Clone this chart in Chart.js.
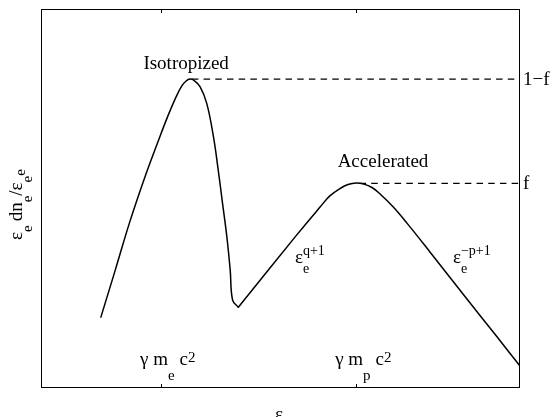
<!DOCTYPE html>
<html>
<head>
<meta charset="utf-8">
<script src="https://cdn.jsdelivr.net/npm/chart.js@4"></script>
<style>
  html, body { margin: 0; padding: 0; background: #fff; }
  canvas { display: block; }
</style>
</head>
<body>
<canvas id="spec" width="558" height="417"></canvas>
<script>
// electron spectrum (arbitrary units)
const curveX = [12.5, 15.5, 18.6, 21.7, 24.4, 26.5, 28.2, 29.4, 30.3, 31.1, 31.9, 33.2, 34.6, 36.0, 37.0, 37.9, 38.8, 39.5, 40.0, 41.2, 53.4, 58.3, 60.3, 62.4, 64.1, 65.8, 67.4, 69.1, 70.8, 73.5, 76.4, 81.2, 88.1, 95.2, 100];
const curveY = [18.7, 31.1, 44.1, 55.7, 64.9, 71.8, 76.8, 79.7, 81.0, 81.5, 81.2, 79.5, 75.1, 66.3, 57.5, 48.7, 39.9, 31.1, 23.2, 21.3, 40.4, 47.8, 50.7, 52.6, 53.7, 54.1, 53.8, 52.9, 51.2, 47.8, 43.5, 35.9, 24.8, 13.5, 5.8];

// fraction levels (dashed)
const levelY = [81.5, 54.0];
const levelStartX = [31.5, 66.5];
const levelLabels = ['1\u2212f', 'f'];

// characteristic energies on the x axis
const tickX = [25.05, 65.8];
const tickSubs = ['e', 'p'];

const FONT = '"Liberation Serif", "DejaVu Serif", serif';

function drawRich(ctx, parts, x, y) {
    parts.forEach(p => {
        ctx.font = p.size + 'px ' + FONT;
        ctx.fillText(p.text, x, y + (p.dy || 0));
        if (!p.stack) x += ctx.measureText(p.text).width + (p.gap || 0);
    });
}

const decor = {
    id: 'decor',
    afterDraw(chart) {
        const ctx = chart.ctx;
        const a = chart.chartArea;
        const xs = chart.scales.x, ys = chart.scales.y;
        ctx.save();
        ctx.strokeStyle = '#000';
        ctx.fillStyle = '#000';
        ctx.lineWidth = 1;

        // box
        ctx.strokeRect(Math.round(a.left) + 0.5, Math.round(a.top) + 0.5,
            Math.round(a.right - a.left) - 1, Math.round(a.bottom - a.top) - 1);

        // inward ticks top and bottom
        tickX.forEach(v => {
            const px = Math.round(xs.getPixelForValue(v)) + 0.5;
            ctx.beginPath();
            ctx.moveTo(px, a.bottom); ctx.lineTo(px, a.bottom - 4);
            ctx.moveTo(px, a.top); ctx.lineTo(px, a.top + 4);
            ctx.stroke();
        });

        ctx.textAlign = 'left';
        ctx.textBaseline = 'alphabetic';

        // tick labels inside the box
        tickX.forEach((v, i) => {
            const px = xs.getPixelForValue(v) - 21;
            drawRich(ctx, [
                { text: '\u03b3 m', size: 19 },
                { text: tickSubs[i], size: 15, dy: 15, gap: 5 },
                { text: 'c', size: 19 },
                { text: '2', size: 15, dy: -3 }
            ], px, a.bottom - 23);
        });

        // level labels on the right
        levelY.forEach((v, i) => {
            ctx.font = '19px ' + FONT;
            ctx.fillText(levelLabels[i], a.right + 3, ys.getPixelForValue(v) + 6);
        });

        // annotations
        ctx.textAlign = 'center';
        ctx.font = '19px ' + FONT;
        ctx.fillText('Isotropized', xs.getPixelForValue(30.3), ys.getPixelForValue(levelY[0]) - 10);
        ctx.fillText('Accelerated', xs.getPixelForValue(71.4), ys.getPixelForValue(levelY[1]) - 16);
        ctx.textAlign = 'left';

        drawRich(ctx, [
            { text: '\u03b5', size: 19 },
            { text: 'e', size: 14, dy: 10, stack: true },
            { text: 'q+1', size: 14, dy: -8 }
        ], 295, 263);
        drawRich(ctx, [
            { text: '\u03b5', size: 19 },
            { text: 'e', size: 14, dy: 10, stack: true },
            { text: '\u2212p+1', size: 14, dy: -8 }
        ], 453, 263);

        // x title
        drawRich(ctx, [
            { text: '\u03b5', size: 19 },
            { text: 'e', size: 15, dy: 10 }
        ], 275, 420);

        // y title (rotated)
        ctx.save();
        ctx.translate(22, 240);
        ctx.rotate(-Math.PI / 2);
        drawRich(ctx, [
            { text: '\u03b5', size: 19 },
            { text: 'e', size: 15, dy: 10, gap: 4 },
            { text: 'dn', size: 19 },
            { text: 'e', size: 15, dy: 10 },
            { text: '/\u03b5', size: 19 },
            { text: 'e', size: 15, dy: 10 },
            { text: 'e', size: 15, dy: 3 }
        ], 0, 0);
        ctx.restore();

        ctx.restore();
    }
};

const curve = curveX.map((x, i) => ({ x: x, y: curveY[i] }));
// the dip between the two humps is a sharp corner: split the curve there
const inner = curveY.slice(10, curveY.length - 10);
const kink = 10 + inner.indexOf(Math.min(...inner));

function curvePart(points) {
    return {
        data: points,
        borderColor: '#000',
        borderWidth: 1.5,
        pointRadius: 0,
        tension: 0.4,
        borderJoinStyle: 'round',
        borderCapStyle: 'round',
        fill: false
    };
}

const levels = levelY.map((y, i) => ({
    data: [{ x: levelStartX[i], y: y }, { x: 100, y: y }],
    borderColor: '#000',
    borderWidth: 1.2,
    borderDash: [6.5, 5.2],
    pointRadius: 0,
    fill: false
}));

new Chart(document.getElementById('spec'), {
    type: 'line',
    data: {
        datasets: [curvePart(curve.slice(0, kink + 1)), curvePart(curve.slice(kink))].concat(levels)
    },
    options: {
        responsive: false,
        animation: false,
        layout: { padding: { left: 41, top: 9, right: 38, bottom: 29 } },
        plugins: { legend: { display: false }, tooltip: { enabled: false } },
        scales: {
            x: { type: 'linear', min: 0, max: 100, display: false },
            y: { type: 'linear', min: 0, max: 100, display: false }
        }
    },
    plugins: [decor]
});
</script>
</body>
</html>
